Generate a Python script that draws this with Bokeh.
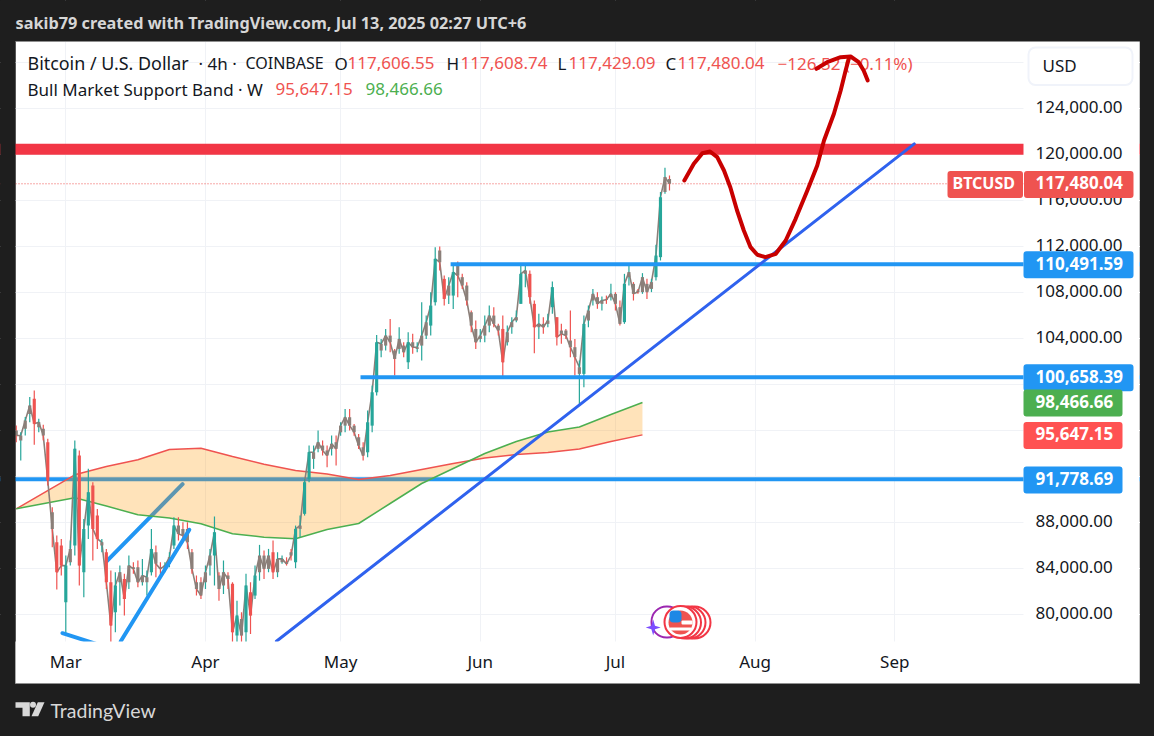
import numpy as np
import pandas as pd
from bokeh.embed import file_html
from bokeh.resources import INLINE
from bokeh.plotting import figure
from bokeh.models import (Range1d, FixedTicker, BoxAnnotation, Label,
                          Span, PolyAnnotation, ColumnDataSource)

# ---------- data (USD) ----------
HIGH = [96.46,95.88,97.19,98.93,99.5,97.04,96.52,95.3,89.35,86.89,86.6,85.15,86.46,95.16,94.29,88.34,92.69,91.53,89.21,86.6,
        85.73,83.85,83.7,84.28,83.56,85.15,84.57,84.72,84.86,83.85,87.47,86.02,84.57,84.57,85.44,88.49,88.49,88.05,88.05,85.73,
        83.41,83.27,84.28,85.73,88.54,83.7,84.72,83.7,82.83,81.23,80.22,83.56,82.83,84.28,86.08,85.59,85.73,86.46,85.44,85.15,
        85.0,85.73,87.76,88.63,91.82,94.72,94.72,96.03,95.16,94.72,95.59,95.59,
        96.74,97.9,97.9,96.6,95.73,95.0,97.76,99.93,104.34,103.99,104.86,105.73,103.12,105.01,103.7,104.57,104.43,103.7,
        107.18,106.02,108.05,111.97,112.02,109.5,109.36,110.37,110.72,109.65,108.92,106.46,105.59,104.86,106.02,106.89,106.75,105.3,106.02,105.15,
        105.88,106.46,110.37,110.46,109.94,107.33,106.17,105.88,106.17,108.98,105.88,105.3,104.86,106.46,103.99,102.11,106.03,106.9,108.34,108.05,
        107.68,107.76,108.78,108.05,107.33,109.65,110.52,108.93,108.34,109.71,109.22,109.22,112.17,116.76,118.87,118.2]
LOW = [95.01,93.42,95.59,96.75,94.78,95.88,95.16,91.24,85.88,82.19,83.41,78.34,84.28,85.15,82.54,81.52,86.6,84.72,85.73,85.44,
       82.25,77.61,78.48,80.8,79.93,82.25,83.56,82.39,82.54,81.67,83.41,83.27,83.41,83.7,84.13,85.73,86.46,86.31,85.73,83.56,
       81.67,81.38,82.25,83.41,82.54,81.23,81.81,82.25,77.61,77.61,77.61,77.61,78.34,81.38,82.97,83.12,83.7,83.12,83.27,84.43,
       84.28,84.72,84.05,86.75,88.63,91.53,92.69,94.14,93.85,92.84,93.85,92.98,
       95.58,95.87,96.02,95.58,94.42,93.41,93.69,95.87,99.06,102.4,102.98,102.83,100.8,102.69,102.4,101.38,102.69,102.83,
       102.11,103.99,104.28,106.89,109.94,106.89,107.03,106.6,107.62,108.34,106.89,104.57,103.12,103.7,103.7,104.57,105.01,104.28,100.51,103.41,
       104.43,105.45,107.04,108.49,107.04,102.75,103.99,104.43,105.01,106.17,103.42,103.56,103.99,102.4,100.8,98.34,99.79,105.01,106.9,106.61,
       106.46,107.04,107.33,106.46,105.16,105.3,108.64,107.33,107.91,107.91,107.47,108.06,109.07,110.81,116.61,116.9]
OPEN = [96.03,95.16,96.17,97.47,98.78,96.32,96.17,95.01,88.92,86.31,86.02,81.09,84.57,86.02,93.85,83.7,87.76,91.24,88.63,86.02,
        85.44,82.83,80.22,82.83,83.12,82.83,84.13,84.13,82.83,82.83,83.7,85.44,84.13,83.99,84.43,86.02,87.76,87.47,87.47,85.44,
        82.83,82.83,82.83,84.28,85.15,83.41,82.54,83.41,82.69,78.19,79.64,78.48,81.96,81.67,83.7,85.15,83.99,85.44,83.7,84.57,
        84.57,85.44,84.57,87.47,88.78,91.82,93.56,94.43,94.72,94.29,94.43,95.01,
        95.87,96.45,97.18,96.45,95.44,94.57,94.13,96.45,99.35,102.98,103.41,104.28,102.98,103.12,103.41,101.96,103.7,103.12,
        103.41,104.28,105.15,107.18,111.67,109.21,107.76,107.76,110.37,109.36,108.63,106.31,104.86,103.99,104.28,105.15,106.02,105.15,104.86,103.7,
        105.01,105.59,107.04,109.65,109.65,107.04,105.01,105.3,105.3,106.75,105.88,104.72,104.72,103.85,103.27,100.95,100.95,105.59,107.33,107.62,
        107.04,107.47,107.62,107.91,106.75,105.45,109.36,108.78,108.2,108.06,108.78,108.34,109.36,111.1,116.76,117.9]
CLOSE = [95.59,95.59,96.9,98.2,96.61,96.75,95.59,91.67,87.47,83.7,84.28,84.28,85.73,94.43,84.28,87.47,90.66,87.47,86.6,86.31,
         82.83,79.06,82.54,83.7,81.38,84.28,83.99,82.83,83.41,83.27,85.73,84.43,83.99,84.28,85.0,87.76,87.03,86.89,86.31,83.99,
         82.25,81.67,83.7,85.15,87.18,82.25,83.7,83.12,78.48,79.93,78.19,82.54,79.93,83.41,85.15,83.99,85.15,83.7,84.86,84.86,
         84.43,85.15,87.47,87.76,91.53,94.14,94.14,95.01,94.29,93.85,94.87,94.43,
         96.45,97.18,96.45,95.87,94.71,93.84,96.74,99.35,103.7,103.56,104.28,103.7,102.25,103.99,102.83,103.7,103.27,103.27,
         104.28,105.44,106.89,110.95,110.66,107.47,108.63,109.79,109.5,108.63,107.33,105.15,103.7,104.28,105.15,106.02,105.3,104.72,101.96,104.57,
         105.45,105.88,109.65,109.94,107.62,105.01,105.3,105.01,105.59,108.49,104.14,104.43,104.29,103.27,102.4,101.53,105.3,106.46,107.91,107.04,
         107.33,107.39,107.91,107.04,105.3,108.78,109.8,107.91,108.06,109.36,108.06,108.93,111.24,116.32,118.06,117.48]

BAND_WEEKS = ["2025-02-18","2025-03-03","2025-03-10","2025-03-17","2025-03-24","2025-03-31","2025-04-07","2025-04-14",
              "2025-04-21","2025-04-28","2025-05-05","2025-05-12","2025-05-19","2025-05-26","2025-06-02","2025-06-09",
              "2025-06-16","2025-06-23","2025-06-30","2025-07-07"]
BAND_LOWER_SMA = [89218,92174,92896,93479,94375,94488,93766,93096,92548,92244,91766,92113,92635,93157,93635,93940,94114,94418,95070,95647.15]
BAND_UPPER_EMA = [89218,90174,89461,88696,88418,87913,87044,86748,86609,87418,87939,89679,91418,92722,94027,95070,95896,96331,97418,98466.66]

LEVELS = [110491.59, 100658.39, 91778.69]
LEVEL_STARTS = ["2025-05-25 10:00", "2025-05-05 10:00", "2025-02-01"]
RESISTANCE = 120488
LAST_PRICE = 117480.04

CHANNEL_UPPER_T = ["2025-03-10 01:00", "2025-03-26 22:00"]
CHANNEL_UPPER_P = [84640, 91360]
CHANNEL_LOWER_T = ["2025-03-13 04:00", "2025-03-28 10:00"]
CHANNEL_LOWER_P = [77678, 87390]
SHORT_T = ["2025-02-28 06:00", "2025-03-08 06:00"]
SHORT_P = [78400, 77400]
TREND_T = ["2025-04-16 18:00", "2025-09-05 08:00"]
TREND_P = [77700, 120950]

SKETCH_DAYS = [137.3,139.4,141.3,143.0,144.6,146.1,147.5,149.0,150.5,152.0,153.5,155.3,157.6,159.8,162.0,164.6,166.8,168.3,170.5,172.0,173.1,173.8]
SKETCH_P = [117767,119219,120141,120288,119793,118636,117184,115158,113419,111966,111306,111097,111393,112549,114436,116897,119071,121245,123567,125593,127332,128350]
ARC_DAYS = [166.6,169.0,172.0,174.2,176.0,177.1,178.0]
ARC_P = [127480,128054,128489,128549,128054,127332,126463]

Y_GRID = [80000,84000,88000,92000,96000,100000,104000,108000,112000,116000,120000,124000,128000]
Y_LABELED = [80000,84000,88000,104000,108000,112000,116000,120000,124000]
MONTH_STARTS = ["2025-03-01","2025-04-01","2025-05-01","2025-06-01","2025-07-01","2025-08-01","2025-09-01"]
MONTH_NAMES = ["Mar","Apr","May","Jun","Jul","Aug","Sep"]

# ---------- scales / layout ----------
FONT = "Noto Sans"
INK = "#131722"
UP, DOWN = "#26a69a", "#ef5350"
MIXED = "#8b7f79"
BLUE = "#2196f3"
DARK = "#1e1e1e"
DAY = 86400000.0

def ms(s):
    return pd.Timestamp(s).value / 1e6

MAR1 = ms("2025-03-01")
XMIN, XMAX = MAR1 - 14.495 * DAY, MAR1 + 241.66 * DAY
YMIN, YMAX = 69417, 133419
PANE_LEFT_T = MAR1 - 11.165 * DAY
PANE_RIGHT_T = MAR1 + 212.6 * DAY
PANE_BOTTOM_P = 77678
LABEL_NUDGE = 150  # tick text sits ~2px above its gridline in the reference

p = figure(width=1154, height=736, x_axis_type="datetime", y_axis_location="right",
           x_range=Range1d(XMIN, XMAX), y_range=Range1d(YMIN, YMAX),
           min_border_left=0, min_border_top=0, min_border_right=0, min_border_bottom=0,
           output_backend="svg", toolbar_location=None, border_fill_color=DARK,
           background_fill_color=DARK, outline_line_color=None)

def page_y(price):
    return (YMAX - price) * 736 / (YMAX - YMIN)

def box(x0, x1, y0, y1, fill, line=None, radius=0, level="annotation", lw=1):
    b = BoxAnnotation(left=x0, right=x1, top=y0, bottom=y1,
                      left_units="canvas", right_units="canvas", top_units="canvas", bottom_units="canvas",
                      fill_color=fill, fill_alpha=1, line_color=line, line_alpha=1, line_width=lw, level=level,
                      border_radius=int(radius), editable=False)
    p.add_layout(b)
    return b

def poly(xs, ys, fill):
    p.add_layout(PolyAnnotation(xs=xs, ys=ys, xs_units="canvas", ys_units="canvas", fill_color=fill,
                                fill_alpha=1, line_color=None, editable=False))

def text(x, y, s, color=INK, size=17, style="normal", level="annotation", font=FONT):
    l = Label(x=x, y=y, x_units="canvas", y_units="canvas", text=s, text_color=color,
              text_font=font, text_font_size=f"{size}px", text_font_style=style,
              text_baseline="middle", text_align="left", level=level)
    p.add_layout(l)
    return l

# white chart panel under everything
box(15, 1139, 41, 683, "white", line="#8f8f8f", level="image")

# axes and grid
p.grid.grid_line_color = "#f0f2f6"
p.grid.grid_line_width = 1
p.ygrid.ticker = FixedTicker(ticks=Y_GRID)
month_ms = [ms(m) for m in MONTH_STARTS]
p.xgrid.ticker = FixedTicker(ticks=month_ms)

ya = p.yaxis[0]
ya.fixed_location = PANE_RIGHT_T
label_ticks = [v + LABEL_NUDGE for v in Y_LABELED]
ya.ticker = FixedTicker(ticks=label_ticks)
ya.major_label_overrides = {t: f"{v:,.2f}" for t, v in zip(label_ticks, Y_LABELED)}
ya.axis_line_color = None
ya.major_tick_line_color = None
ya.minor_tick_line_color = None
ya.major_tick_out = 0
ya.major_label_standoff = 12
ya.major_label_text_font = FONT
ya.major_label_text_font_size = "17px"
ya.major_label_text_color = INK

xa = p.xaxis[0]
xa.fixed_location = PANE_BOTTOM_P
xa.ticker = FixedTicker(ticks=month_ms)
xa.major_label_overrides = {t: n for t, n in zip(month_ms, MONTH_NAMES)}
xa.axis_line_color = None
xa.major_tick_line_color = None
xa.minor_tick_line_color = None
xa.major_tick_out = 0
xa.major_label_standoff = 8
xa.major_label_text_font = FONT
xa.major_label_text_font_size = "17px"
xa.major_label_text_color = INK

def hline(price, start, **kw):
    p.line([ms(start), XMAX], [price, price], **kw)

def seg(ts, ps, **kw):
    p.line([ms(t) for t in ts], ps, line_cap="round", **kw)

# drawn beneath the orange band
hline(LEVELS[2], LEVEL_STARTS[2], line_color=BLUE, line_width=4)
seg(CHANNEL_UPPER_T, CHANNEL_UPPER_P, line_color=BLUE, line_width=4)

# resistance and price line
hline(RESISTANCE, "2025-02-01", line_color="#f23645", line_width=11)
p.add_layout(Span(location=LAST_PRICE, dimension="width", line_color=DOWN, line_width=1, line_dash="1 2", level="underlay"))

# Bull Market Support Band
week_ms = [ms(w) for w in BAND_WEEKS]
p.varea(week_ms, BAND_LOWER_SMA, BAND_UPPER_EMA, fill_color="#ff9800", fill_alpha=0.27)
p.line(week_ms, BAND_LOWER_SMA, line_color=DOWN, line_width=1.5)
p.line(week_ms, BAND_UPPER_EMA, line_color="#4caf50", line_width=1.5)

# candles
dates = pd.date_range("2025-02-18", periods=len(HIGH), freq="D")
t = np.array([d.value / 1e6 for d in dates])
O, H, L, C = [np.array(a) * 1000 for a in (OPEN, HIGH, LOW, CLOSE)]
p.line(t, C, line_color=MIXED, line_width=1.6)
bigmove = np.abs(C - O) >= 1600
colors = np.where(bigmove, np.where(C >= O, UP, DOWN), MIXED)
src = ColumnDataSource(dict(t=t, h=H, l=L, o=O, c=C, col=colors,
                            wick=np.where(C >= O, UP, DOWN)))
p.segment("t", "h", "t", "l", source=src, line_color="wick", line_width=1.2)
p.vbar("t", 0.7 * DAY, "o", "c", source=src, fill_color="col", line_color=None)

# drawn over the candles
hline(LEVELS[0], LEVEL_STARTS[0], line_color=BLUE, line_width=4)
hline(LEVELS[1], LEVEL_STARTS[1], line_color=BLUE, line_width=4)
seg(CHANNEL_LOWER_T, CHANNEL_LOWER_P, line_color=BLUE, line_width=4)
seg(SHORT_T, SHORT_P, line_color=BLUE, line_width=4)
seg(TREND_T, TREND_P, line_color="#2f62ee", line_width=3)

# red projection sketch
p.line([MAR1 + d * DAY for d in SKETCH_DAYS], SKETCH_P, line_color="#c80000", line_width=4, line_cap="round", line_join="round")
p.line([MAR1 + d * DAY for d in ARC_DAYS], ARC_P, line_color="#c80000", line_width=4, line_cap="round", line_join="round")

# masks: keep the drawing inside the pane
p.quad(left=[XMIN - 5 * DAY], right=[PANE_LEFT_T], top=[YMAX + 9000], bottom=[YMIN - 9000], fill_color=DARK, line_color=None)
box(1023, 1139, 41, 683, "white", level="glyph")
box(15, 1023, 641, 683, "white", level="glyph")
box(-5, 1160, -5, 41, DARK, level="glyph")
box(-5, 1160, 683.5, 745, DARK, level="glyph")
box(1139.5, 1160, -5, 745, DARK, level="glyph")
box(15, 1139, 40.5, 41.5, "#8f8f8f", level="glyph")
box(15, 1139, 682.5, 683.5, "#8f8f8f", level="glyph")

# legend rows (under the sketch)
lv = "underlay"
R1, R2 = 62.5, 88.5
text(27, R1, "Bitcoin / U.S. Dollar", size=17.9, level=lv)
text(198, R1, "· 4h ·", level=lv)
text(245, R1, "COINBASE", size=16, level=lv)
text(334, R1, "O", level=lv); text(347, R1, "117,606.55", DOWN, level=lv)
text(446, R1, "H", level=lv); text(460, R1, "117,608.74", DOWN, level=lv)
text(557, R1, "L", level=lv); text(568, R1, "117,429.09", DOWN, level=lv)
text(665, R1, "C", level=lv); text(677, R1, "117,480.04", DOWN, level=lv)
text(777, R1, "−126.52 (−0.11%)", DOWN, level=lv)
text(27, R2, "Bull Market Support Band · W", level=lv)
text(275, R2, "95,647.15", DOWN, level=lv)
text(365, R2, "98,466.66", "#4caf50", level=lv)

# header / footer
text(15, 22, "sakib79 created with TradingView.com, Jul 13, 2025 02:27 UTC+6", "#d6d6d6", 16.3, "bold")
text(50, 710, "TradingView", "#d8d8d8", 19.5, font="Lato")
logo_col = "#d8d8d8"
poly([15, 29.3, 29.3, 22, 22, 15], [701.7, 701.7, 715.7, 715.7, 707.3, 707.3], logo_col)
poly([37.3, 44, 37.7, 31], [701.7, 701.7, 715.7, 715.7], logo_col)
box(29.5, 35.5, 701.3, 707.3, logo_col, radius=3)

# currency button
box(1028, 1132, 47, 84.5, "white", line="#f0f3fa", radius=7, lw=2)
text(1042, 64.5, "USD", size=17)

# price tags
def tag(x0, x1, price, fill, s, tx, size=17):
    y = page_y(price) + 0.6
    box(x0, x1, y - 13.5, y + 13.5, fill, radius=3)
    text(tx, y - 1.5, s, "white", size, "bold")

tag(1023, 1133, LEVELS[0], BLUE, f"{LEVELS[0]:,.2f}", 1035)
tag(1023, 1133, LEVELS[1], BLUE, f"{LEVELS[1]:,.2f}", 1035)
tag(1023, 1122, BAND_UPPER_EMA[-1], "#4caf50", f"{BAND_UPPER_EMA[-1]:,.2f}", 1035)
tag(1023, 1122, BAND_LOWER_SMA[-1], "#ff5252", f"{BAND_LOWER_SMA[-1]:,.2f}", 1035)
tag(1023, 1122, LEVELS[2], BLUE, f"{LEVELS[2]:,.2f}", 1035)
tag(1023.5, 1133, LAST_PRICE, DOWN, f"{LAST_PRICE:,.2f}", 1035)
tag(947, 1022.5, LAST_PRICE, DOWN, "BTCUSD", 952, size=16)

# calendar icon
sx = [652.7 + a for a in (0, 1.8, 7.5, 1.8, 0, -1.8, -7.5, -1.8)]
sy = [627 + a for a in (-8, -1.8, 0, 1.8, 8, 1.8, 0, -1.8)]
box(651, 682, 606, 637, "white", line="#9c27b0", radius=15, lw=2)
poly(sx, sy, "#7c4dff")
for cx in (694, 689, 684.5):
    box(cx - 16, cx + 16, 606, 638, "white", line="#f23645", radius=16, lw=2)
box(664, 696, 605.5, 637.5, "white", line="#f23645", radius=16, lw=2)
box(668, 692, 610, 634, "#ef5350", radius=12)
box(681, 692, 620, 624, "white", radius=1)
box(669, 691, 627, 630, "white", radius=1)
box(669, 681, 610, 622, "#1e88e5", radius=4)

html = file_html(p, INLINE)
html = html.replace("</head>", f"<style>html,body{{background:{DARK};}}</style></head>", 1)
open("out.html", "w").write(html)
